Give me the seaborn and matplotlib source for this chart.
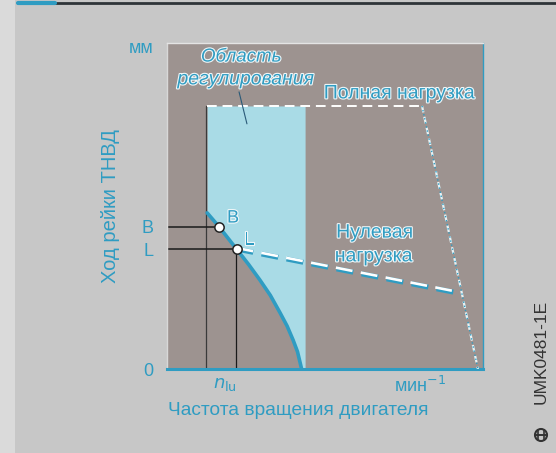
import matplotlib
matplotlib.use("Agg")
import matplotlib.pyplot as plt
import matplotlib.patheffects as pe
from matplotlib.patches import Rectangle, Circle
from matplotlib.lines import Line2D
import seaborn as sns
import pandas as pd

# Control curve (rack travel vs. engine speed), relative units 0..100
curve_x = [12.7, 16.5, 22.0, 25.8, 29.4, 32.7, 35.8, 38.0, 39.9, 41.3, 42.6]
curve_y = [47.9, 43.6, 36.8, 32.1, 27.3, 22.6, 17.2, 13.2, 8.9, 5.3, 0.0]

# Full-load line (horizontal part, then breakaway)
full_x = [12.7, 80.7, 98.4]
full_y = [80.7, 80.7, 0.0]

# Zero-load line from point L
zero_x = [22.0, 92.1]
zero_y = [36.8, 23.3]

# Control range borders
reg_left, reg_right, reg_top = 12.7, 43.7, 80.7
idle_line_x = 12.2

# Marked points
pt_names = ["B", "L"]
pt_x = [16.5, 22.0]
pt_y = [43.6, 36.8]

ytick_vals = [0, 36.8, 43.6, 98.8]
ytick_labels = ["0", "L", "B", "мм"]
xtick_vals = [18.4, 80.0]
xtick_labels = [r"$n_{\mathrm{lu}}$", "мин$^{-1}$"]

BLUE = "#2f9cc2"
LIGHT = "#a9dbe6"
PLOT_BG = "#9d9390"
FIG_BG = "#c7c7c7"

sns.set_theme(style="white")
plt.rcParams["font.family"] = ["Liberation Sans", "DejaVu Sans"]

fig = plt.figure(figsize=(5.56, 4.53), dpi=100, facecolor=FIG_BG)
ax = fig.add_axes([167 / 556, (453 - 369) / 453, 316 / 556, 326 / 453])
ax.set_facecolor(PLOT_BG)
ax.set_xlim(0, 100)
ax.set_ylim(0, 100)

# light-blue control range: right of the control curve, up to full load
ax.fill_betweenx([reg_top] + curve_y, [reg_left] + curve_x, reg_right,
                 color=LIGHT, lw=0, zorder=1)

# thin black guide lines
ax.plot([idle_line_x, idle_line_x], [0, reg_top], color="#3a3a3a", lw=0.9, zorder=2)
ax.plot([0, pt_x[0]], [pt_y[0], pt_y[0]], color="#1a1a1a", lw=1.1, zorder=2)
ax.plot([0, pt_x[1]], [pt_y[1], pt_y[1]], color="#1a1a1a", lw=1.1, zorder=2)
ax.plot([pt_x[1] - 0.3, pt_x[1] - 0.3], [0, pt_y[1]], color="#1a1a1a", lw=0.9, zorder=2)

# control curve
curve_df = pd.DataFrame({"n": curve_x, "s": curve_y})
sns.lineplot(data=curve_df, x="n", y="s", sort=False, color=BLUE, lw=2.6,
             ax=ax, zorder=4, estimator=None)

# full-load line
ax.plot(full_x[:2], full_y[:2], color="white", lw=1.4, dashes=(5, 3), zorder=3)
ax.plot(full_x[1:], full_y[1:], color="#e6f2f5", lw=1.6, dashes=(3, 2), zorder=3)
ax.plot(full_x[1:], full_y[1:], color=BLUE, lw=1.0, dashes=(1, 2), zorder=3)

# zero-load line
ax.plot(zero_x, zero_y, color=BLUE, lw=3.6, dashes=(3.4, 1.7), zorder=3,
        dash_capstyle="butt")
ax.plot(zero_x, [v + 0.35 for v in zero_y], color="white", lw=1.9, dashes=(6.4, 3.2),
        zorder=3, dash_capstyle="butt")

# leader line from the label into the control range
ax.plot([22.8, 25.3], [85.0, 75.2], color="#2a5a78", lw=0.8, zorder=3)

# points B and L
sns.scatterplot(x=pt_x, y=pt_y, s=45, color="white", edgecolor="#222222",
                linewidth=1.1, ax=ax, zorder=5)

emb = [pe.withStroke(linewidth=1.6, foreground="#eef6f8")]
fs_in = 14
ax.text(23.5, 95.7, "Область", color=BLUE, fontsize=13.5, style="italic",
        ha="center", va="center", path_effects=emb, zorder=6)
ax.text(25.0, 88.7, "регулирования", color=BLUE, fontsize=14, style="italic",
        ha="center", va="center", path_effects=emb, zorder=6)
ax.text(73.7, 84.4, "Полная нагрузка", color=BLUE, fontsize=fs_in,
        ha="center", va="center", path_effects=emb, zorder=6)
ax.text(65.8, 41.7, "Нулевая", color=BLUE, fontsize=fs_in,
        ha="center", va="center", path_effects=emb, zorder=6)
ax.text(65.5, 34.4, "нагрузка", color=BLUE, fontsize=fs_in,
        ha="center", va="center", path_effects=emb, zorder=6)
ax.text(20.9, 46.3, "B", color=BLUE, fontsize=13, ha="center", va="center",
        path_effects=emb, zorder=6)
ax.text(26.0, 39.5, "L", color=BLUE, fontsize=13, ha="center", va="center",
        path_effects=emb, zorder=6)

# axes ticks and labels
ax.set_yticks(ytick_vals, ytick_labels)
ax.set_xticks(xtick_vals, xtick_labels)
ax.tick_params(axis="both", length=0, colors=BLUE, labelsize=13)
ax.tick_params(axis="y", pad=10)
ax.tick_params(axis="x", pad=5)
ax.set_xlabel("Частота вращения двигателя", color=BLUE, fontsize=13.8)
ax.set_ylabel("Ход рейки ТНВД", color=BLUE, fontsize=14.5)
ax.xaxis.set_label_coords(0.415, -0.100)
ax.yaxis.set_label_coords(-0.150, 0.5)

for side, sp in ax.spines.items():
    sp.set_visible(True)
ax.spines["bottom"].set_color(BLUE)
ax.spines["bottom"].set_linewidth(2.2)
ax.spines["right"].set_color(BLUE)
ax.spines["right"].set_linewidth(1.0)
ax.spines["left"].set_color("#d8d8d8")
ax.spines["left"].set_linewidth(1.0)
ax.spines["top"].set_color("#e4e4e4")
ax.spines["top"].set_linewidth(1.0)

# page frame details
fig.add_artist(Rectangle((0, 0), 15 / 556, 1, transform=fig.transFigure,
                         color="#dadada", lw=0, zorder=0))
fig.add_artist(Line2D([18 / 556, 1], [1 - 3 / 453, 1 - 3 / 453], transform=fig.transFigure,
                      color="#2e3438", lw=2.0))
fig.add_artist(Line2D([18 / 556, 55 / 556], [1 - 3 / 453, 1 - 3 / 453], transform=fig.transFigure,
                      color=BLUE, lw=3.0))

# drawing number with logo
fig.text(541 / 556, 1 - 352 / 453, "UMK0481-1E", rotation=90, color="#333333",
         fontsize=12.5, ha="center", va="center")
fig.add_artist(Circle((541, 453 - 435), 6, transform=None, fill=False,
                      ec="#333333", lw=1.5))
fig.add_artist(Line2D([541 - 6, 541 + 6], [453 - 435, 453 - 435], transform=None,
                      color="#333333", lw=1.4))
fig.add_artist(Line2D([541 - 3, 541 - 3], [453 - 440, 453 - 430], transform=None,
                      color="#333333", lw=1.2))
fig.add_artist(Line2D([541 + 3, 541 + 3], [453 - 440, 453 - 430], transform=None,
                      color="#333333", lw=1.2))

fig.savefig("out.png", dpi=100, facecolor=FIG_BG)
